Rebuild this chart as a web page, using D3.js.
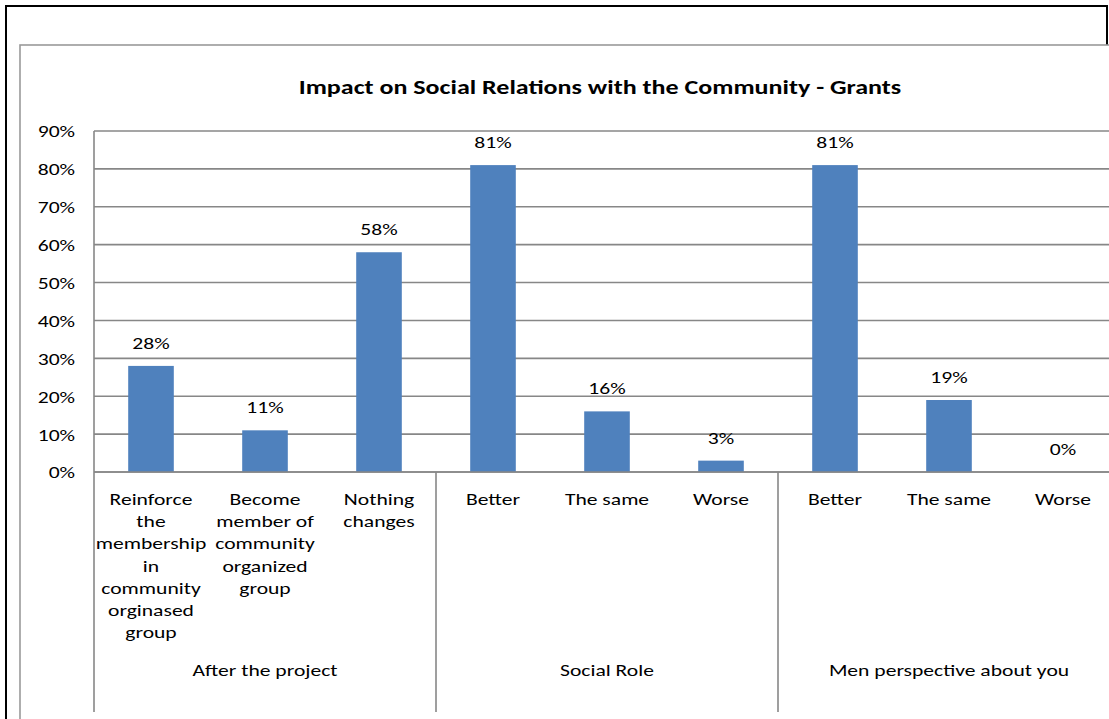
<!DOCTYPE html>
<html>
<head>
<meta charset="utf-8">
<script src="https://cdn.jsdelivr.net/npm/d3@7"></script>
<style>
  html, body { margin: 0; padding: 0; background: #fff; }
  svg { display: block; }
  text { font-family: Carlito, Calibri, Lato, "Open Sans", sans-serif; fill: #000; }
</style>
</head>
<body>
<svg id="chart" width="1109" height="719"></svg>
<script>
// Survey results: share of respondents per answer, grouped by question
const categories = [
  "Reinforce the membership in community orginased group",
  "Become member of community organized group",
  "Nothing changes",
  "Better", "The same", "Worse",
  "Better", "The same", "Worse"
];
const categoryLines = [
  ["Reinforce", "the", "membership", "in", "community", "orginased", "group"],
  ["Become", "member of", "community", "organized", "group"],
  ["Nothing", "changes"],
  ["Better"], ["The same"], ["Worse"],
  ["Better"], ["The same"], ["Worse"]
];
const values = [0.28, 0.11, 0.58, 0.81, 0.16, 0.03, 0.81, 0.19, 0.00];
const groups = ["After the project", "Social Role", "Men perspective about you"];
const groupOfCategory = [0, 0, 0, 1, 1, 1, 2, 2, 2];
const yTicks = [0, 0.1, 0.2, 0.3, 0.4, 0.5, 0.6, 0.7, 0.8, 0.9];
const title = "Impact on Social Relations with the Community - Grants";

const svg = d3.select("#chart");

// Wide text: glyphs are stretched horizontally around their anchor point
const LABEL_SIZE = 17, LABEL_STRETCH = 1.27;
const TITLE_SIZE = 21, TITLE_STRETCH = 1.24;
function place(sel, px, py, sx) {
  return sel.attr("x", 0).attr("y", 0)
    .attr("transform", (d, i) => `translate(${px(d, i)},${py(d, i)}) scale(${sx},1)`);
}

// Outer frame
svg.append("rect").attr("x", 6).attr("y", 6).attr("width", 1101).attr("height", 740)
  .attr("fill", "#fff").attr("stroke", "#000").attr("stroke-width", 2);

// Inner chart area with grey frame
svg.append("rect").attr("x", 20).attr("y", 45).attr("width", 1120).attr("height", 700)
  .attr("fill", "#fff").attr("stroke", "#9a9a9a").attr("stroke-width", 1.6);

const plot = { left: 94, top: 131, bottom: 472, step: 114 };
const x = d3.scaleBand()
  .domain(d3.range(categories.length))
  .range([plot.left, plot.left + plot.step * categories.length])
  .paddingInner(0.6).paddingOuter(0.3);
const y = d3.scaleLinear().domain([0, 0.9]).range([plot.bottom, plot.top]);

const gridColor = "#878787";

// Horizontal gridlines
svg.append("g").selectAll("line").data(yTicks).join("line")
  .attr("x1", plot.left).attr("x2", x.range()[1])
  .attr("y1", d => y(d)).attr("y2", d => y(d))
  .attr("stroke", gridColor).attr("stroke-width", 1.6);

// Y axis labels
const yAxis = d3.axisLeft(y).tickValues(yTicks).tickFormat(d3.format(".0%"))
  .tickSize(0).tickPadding(19);
const gy = svg.append("g").attr("transform", `translate(${plot.left},0)`).call(yAxis);
gy.select(".domain").remove();
gy.selectAll("text")
  .attr("font-size", LABEL_SIZE).attr("dy", "0.35em")
  .attr("transform", `scale(${LABEL_STRETCH},1)`)
  .attr("x", -19 / LABEL_STRETCH)
  .style("font-family", "Carlito, Calibri, Lato, sans-serif");

// Bars
svg.append("g").selectAll("rect").data(values).join("rect")
  .attr("x", (d, i) => x(i)).attr("width", x.bandwidth())
  .attr("y", d => y(d)).attr("height", d => plot.bottom - y(d))
  .attr("fill", "#4F81BD");

// Value labels
place(svg.append("g").selectAll("text").data(values).join("text"),
      (d, i) => x(i) + x.bandwidth() / 2, d => y(d) - 17, LABEL_STRETCH)
  .attr("text-anchor", "middle").attr("font-size", LABEL_SIZE)
  .text(d => d3.format(".0%")(d));

// Axis lines: value axis and baseline
const axisBottom = 712;
svg.append("line").attr("x1", plot.left).attr("x2", plot.left)
  .attr("y1", plot.top).attr("y2", axisBottom)
  .attr("stroke", gridColor).attr("stroke-width", 1.6);
svg.append("line").attr("x1", plot.left).attr("x2", x.range()[1])
  .attr("y1", plot.bottom).attr("y2", plot.bottom)
  .attr("stroke", gridColor).attr("stroke-width", 1.6);

// Group separators
const groupBounds = groups.map((g, gi) => {
  const idx = d3.range(categories.length).filter(i => groupOfCategory[i] === gi);
  return { name: g, x0: x(idx[0]) - x.step() * x.paddingInner() / 2,
           x1: x(idx[idx.length - 1]) + x.bandwidth() + x.step() * x.paddingInner() / 2 };
});
svg.append("g").selectAll("line").data(groupBounds.slice(1)).join("line")
  .attr("x1", d => d.x0).attr("x2", d => d.x0)
  .attr("y1", plot.bottom).attr("y2", axisBottom)
  .attr("stroke", gridColor).attr("stroke-width", 1.6);

// Category labels (wrapped)
const catG = place(svg.append("g").selectAll("text").data(categoryLines).join("text"),
      (d, i) => x(i) + x.bandwidth() / 2, () => 505, LABEL_STRETCH)
  .attr("text-anchor", "middle").attr("font-size", LABEL_SIZE);
catG.selectAll("tspan").data(d => d).join("tspan")
  .attr("x", 0)
  .attr("dy", (d, j) => j === 0 ? 0 : 22.2)
  .text(d => d);

// Group labels
place(svg.append("g").selectAll("text").data(groupBounds).join("text"),
      d => (d.x0 + d.x1) / 2, () => 676, LABEL_STRETCH)
  .attr("text-anchor", "middle").attr("font-size", LABEL_SIZE)
  .text(d => d.name);

// Title
place(svg.append("text").datum(title),
      () => 600, () => 94, TITLE_STRETCH)
  .attr("text-anchor", "middle").attr("font-size", TITLE_SIZE).attr("font-weight", "bold")
  .text(d => d);
</script>
</body>
</html>
